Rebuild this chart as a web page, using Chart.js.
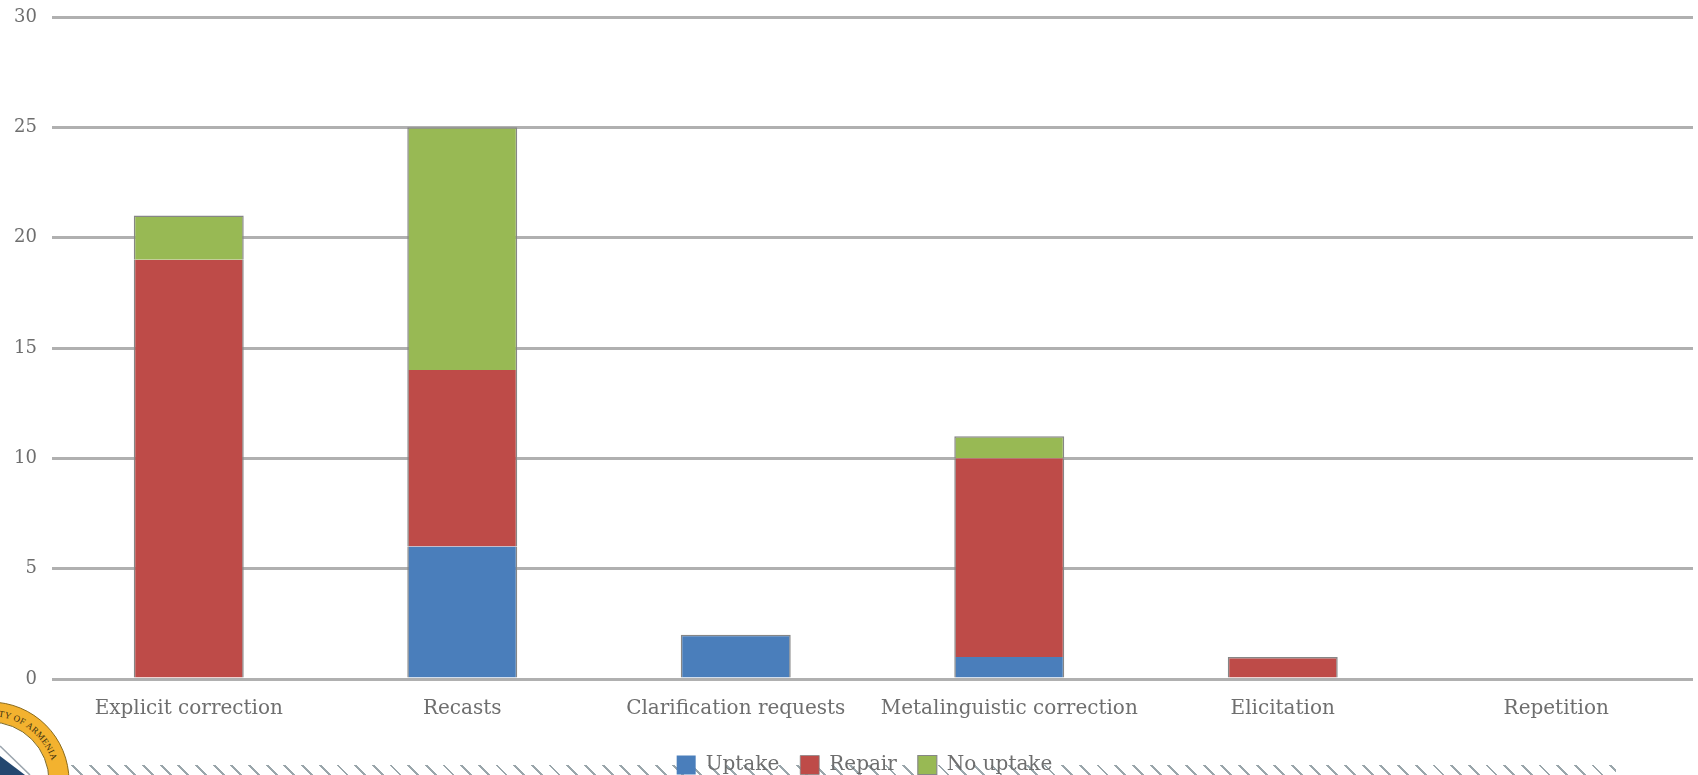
<!DOCTYPE html>
<html>
<head>
<meta charset="utf-8">
<title>Corrective feedback and learner uptake</title>
<script src="https://cdn.jsdelivr.net/npm/chart.js@4"></script>
<style>
  html, body { margin: 0; padding: 0; background: #fff; overflow: hidden; }
  #wrap { position: relative; width: 1698px; height: 775px; }
  /* hatched footer band */
  #band {
    position: absolute; left: 66px; top: 765px; width: 1550px; height: 10px;
    background: repeating-linear-gradient(45deg, #fff 0, #fff 10.5px, #9aa6ab 10.5px, #9aa6ab 12.5px);
  }
  #seal { position: absolute; left: 0; top: 690px; }
  canvas { position: absolute; left: 0; top: 0; }
</style>
</head>
<body>
<div id="wrap">
  <div id="band"></div>
  <svg id="seal" width="70" height="85" viewBox="0 0 70 85">
    <defs><path id="sealArc" d="M -75 91 A 65 65 0 0 1 51.8 70.9"></path></defs>
    <circle cx="-10" cy="91" r="79" fill="#f3b22f" stroke="#8a6a1c" stroke-width="1"></circle>
    <circle cx="-10" cy="91" r="59" fill="#fff" stroke="#7d6a2a" stroke-width="1"></circle>
    <path d="M 0 66 L 25 85 L 0 85 Z" fill="#24476f"></path>
    <path d="M 0 56 L 30 85" stroke="#9aa4ad" stroke-width="1.5" fill="none"></path>
    <text font-family="Liberation Serif" font-size="9" fill="#3b2f10" letter-spacing="0.3" text-anchor="end">
      <textPath href="#sealArc" startOffset="100%">UNIVERSITY OF ARMENIA</textPath>
    </text>
  </svg>
  <canvas id="chart" width="1698" height="775"></canvas>
</div>
<script>
// Feedback types and how learners responded to each
const categories = ['Explicit correction', 'Recasts', 'Clarification requests', 'Metalinguistic correction', 'Elicitation', 'Repetition'];
const uptake = [0, 6, 2, 1, 0, 0];
const repair = [19, 8, 0, 9, 1, 0];
const noUptake = [2, 11, 0, 1, 0, 0];
const yTicks = [0, 5, 10, 15, 20, 25, 30];

const serif = '"DejaVu Serif", "Liberation Serif", serif';
const labelFont = { family: serif, size: 20 };
const textColor = '#6e6e6e';
const gridColor = '#b0b0b0';

// Grey edge on the sides, and on top only for the highest segment of a stack
function segmentBorder(ctx) {
    if (!ctx.raw) return 0;
    const above = ctx.chart.data.datasets.slice(ctx.datasetIndex + 1);
    const isTop = above.every(ds => !ds.data[ctx.dataIndex]);
    return { left: 1.5, right: 1.5, top: isTop ? 1.5 : 0, bottom: 0 };
}

function barSeries(label, data, color) {
    return {
        label: label,
        data: data,
        backgroundColor: color,
        borderColor: '#868686',
        borderWidth: segmentBorder,
        categoryPercentage: 0.402,
        barPercentage: 1
    };
}

// The legend sits a little right of the canvas centre
const legendShift = {
    id: 'legendShift',
    afterLayout(chart) {
        chart.legend.left += 18;
        chart.legend.right += 18;
    }
};

new Chart(document.getElementById('chart'), {
    type: 'bar',
    data: {
        labels: categories,
        datasets: [
            barSeries('Uptake', uptake, '#4a7ebb'),
            barSeries('Repair', repair, '#be4b48'),
            barSeries('No uptake', noUptake, '#98b954')
        ]
    },
    plugins: [legendShift],
    options: {
        responsive: false,
        animation: false,
        layout: { padding: { top: 17, right: 5, bottom: -10, left: 0 } },
        plugins: {
            tooltip: { enabled: false },
            legend: {
                position: 'bottom',
                labels: {
                    color: textColor,
                    font: labelFont,
                    boxWidth: 19,
                    boxHeight: 19,
                    padding: 21
                }
            }
        },
        scales: {
            x: {
                stacked: true,
                afterFit: scale => { scale.height = 55; },
                grid: { display: false },
                border: { display: false },
                ticks: { color: textColor, font: labelFont, maxRotation: 0, padding: 10 }
            },
            y: {
                stacked: true,
                min: 0,
                max: 30,
                afterFit: scale => {
                    scale.width = 52;
                    // the top tick label may overhang the plot without pushing it down
                    scale.paddingTop = 0;
                    scale.paddingBottom = 0;
                },
                afterBuildTicks: scale => { scale.ticks = yTicks.map(v => ({ value: v })); },
                grid: { color: gridColor, lineWidth: 3, drawTicks: false },
                border: { display: false },
                ticks: { color: textColor, font: { family: serif, size: 18 }, padding: 15 }
            }
        }
    }
});
</script>
</body>
</html>
